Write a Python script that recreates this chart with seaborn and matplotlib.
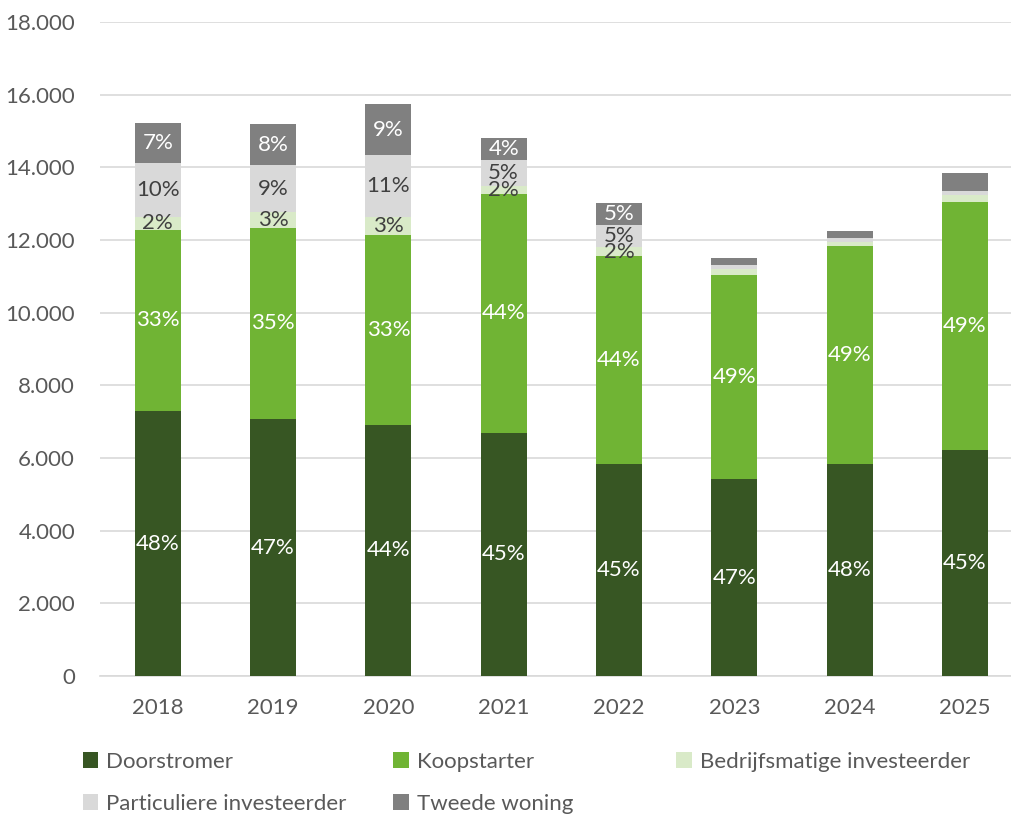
import numpy as np
import pandas as pd
import matplotlib
matplotlib.use("Agg")
import matplotlib.pyplot as plt
import seaborn as sns
from matplotlib.patches import Patch
from matplotlib.ticker import FuncFormatter

years = ["2018", "2019", "2020", "2021", "2022", "2023", "2024", "2025"]
series = ["Doorstromer", "Koopstarter", "Bedrijfsmatige investeerder",
          "Particuliere investeerder", "Tweede woning"]
doorstromer = [7290, 7070, 6910, 6700, 5840, 5420, 5840, 6220]
koopstarter = [4990, 5270, 5230, 6560, 5720, 5630, 6000, 6840]
bedrijfsmatig = [360, 420, 500, 240, 240, 140, 110, 180]
particulier = [1480, 1300, 1700, 700, 610, 110, 100, 110]
tweede = [1110, 1130, 1400, 620, 620, 210, 200, 500]

lab_door = ["48%", "47%", "44%", "45%", "45%", "47%", "48%", "45%"]
lab_koop = ["33%", "35%", "33%", "44%", "44%", "49%", "49%", "49%"]
lab_bedr = ["2%", "3%", "3%", "2%", "2%", "", "", ""]
lab_part = ["10%", "9%", "11%", "5%", "5%", "", "", ""]
lab_twee = ["7%", "8%", "9%", "4%", "5%", "", "", ""]

colors = ["#375623", "#70B434", "#D9EAC8", "#D9D9D9", "#808080"]
label_colors = ["white", "white", "#404040", "#404040", "white"]

values = [doorstromer, koopstarter, bedrijfsmatig, particulier, tweede]
labels = [lab_door, lab_koop, lab_bedr, lab_part, lab_twee]
cum = np.cumsum(np.array(values, dtype=float), axis=0)

sns.set_theme(style="white")
plt.rcParams["font.family"] = ["Lato", "DejaVu Sans"]

fig = plt.figure(figsize=(10.11, 8.16), dpi=100)
ax = fig.add_axes([0.099, 0.1716, 0.901, 0.8014])

for i in range(len(series) - 1, -1, -1):
    df = pd.DataFrame({"year": years, "value": cum[i]})
    sns.barplot(data=df, x="year", y="value", color=colors[i], width=0.4,
                saturation=1, ax=ax, edgecolor="none", linewidth=0, zorder=3)

for i in range(len(series)):
    bottoms = cum[i] - np.array(values[i])
    for j in range(len(years)):
        if labels[i][j]:
            ax.text(j, bottoms[j] + values[i][j] / 2, labels[i][j],
                    ha="center", va="center", fontsize=16,
                    color=label_colors[i], zorder=5)

ax.set_ylim(0, 18000)
ax.set_xlim(-0.5, 7.4)
ax.set_yticks(np.arange(0, 18001, 2000))
ax.yaxis.set_major_formatter(FuncFormatter(lambda v, p: f"{int(v):,}".replace(",", ".")))
ax.grid(axis="y", color="#D9D9D9", linewidth=1.2, zorder=0)
ax.set_axisbelow(True)
for s in ["top", "right", "left"]:
    ax.spines[s].set_visible(False)
ax.spines["bottom"].set_color("#D9D9D9")
ax.spines["bottom"].set_linewidth(1.2)
ax.tick_params(axis="both", length=0, labelsize=16, colors="#595959")
ax.tick_params(axis="x", pad=16)
ax.tick_params(axis="y", pad=18)
ax.set_xlabel("")
ax.set_ylabel("")

handles = [Patch(facecolor=c, edgecolor="none") for c in colors]
positions = [(0.082, 0.079), (0.389, 0.079), (0.669, 0.079)]
groups = [[0, 3], [1, 4], [2]]
for (x0, y0), g in zip(positions, groups):
    fig.legend([handles[k] for k in g], [series[k] for k in g],
               loc="upper left", bbox_to_anchor=(x0, y0), frameon=False,
               fontsize=16, handlelength=0.7, handleheight=0.7,
               handletextpad=0.35, labelspacing=1.0, labelcolor="#595959",
               borderaxespad=0, borderpad=0)

fig.savefig("out.png", dpi=100)
